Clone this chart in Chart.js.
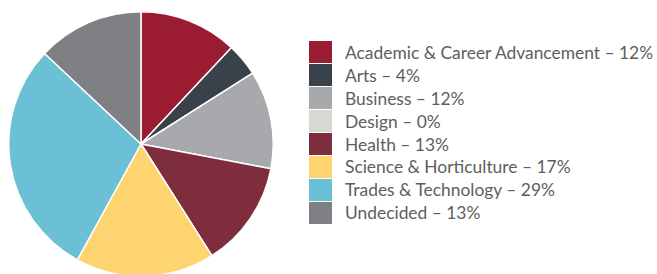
<!DOCTYPE html>
<html>
<head>
<meta charset="utf-8">
<script src="https://cdn.jsdelivr.net/npm/chart.js@4"></script>
<style>
  html, body { margin: 0; padding: 0; background: #fff; overflow: hidden; }
  body { width: 657px; height: 274px; position: relative; }
  #pieWrap { position: absolute; left: 8px; top: 11px; width: 266px; height: 266px; }
  #legend { position: absolute; left: 309px; top: 41px; font-family: Lato, sans-serif; font-size: 17.4px; color: #5e5e5e; }
  .item { height: 22.9px; display: flex; align-items: center; }
  .box { width: 23px; height: 22px; margin-right: 13px; }
</style>
</head>
<body>
<div id="pieWrap"><canvas id="myChart"></canvas></div>
<div id="legend"></div>
<script>
/* Data */
let labels = ['Academic & Career Advancement', 'Arts', 'Business', 'Design', 'Health', 'Science & Horticulture', 'Trades & Technology', 'Undecided']
let percents = [12, 4, 12, 0, 13, 17, 29, 13]
let backgroundColor = ['#9b1b30', '#39424a', '#a7a9ac', '#d7d7d3', '#7e2d3c', '#fdd46f', '#6cc0d6', '#7f8083']

/* Pie */
const ctx = document.getElementById('myChart').getContext('2d')
const myChart = new Chart(ctx, {
    type: 'pie',
    data: {
        labels: labels,
        datasets: [{
            data: percents,
            backgroundColor: backgroundColor,
            borderColor: '#ffffff',
            borderWidth: 1.5
        }]
    },
    options: {
        responsive: true,
        maintainAspectRatio: false,
        animation: false,
        plugins: {
            legend: { display: false },
            tooltip: { enabled: false }
        }
    }
})

/* Legend */
let legend = document.getElementById('legend')
for (let i = 0; i < labels.length; i++) {
    let row = document.createElement('div')
    row.className = 'item'
    row.innerHTML = `<span class="box" style="background:${backgroundColor[i]}"></span><span>${labels[i]} \u2013 ${percents[i]}%</span>`
    legend.appendChild(row)
}
</script>
</body>
</html>
